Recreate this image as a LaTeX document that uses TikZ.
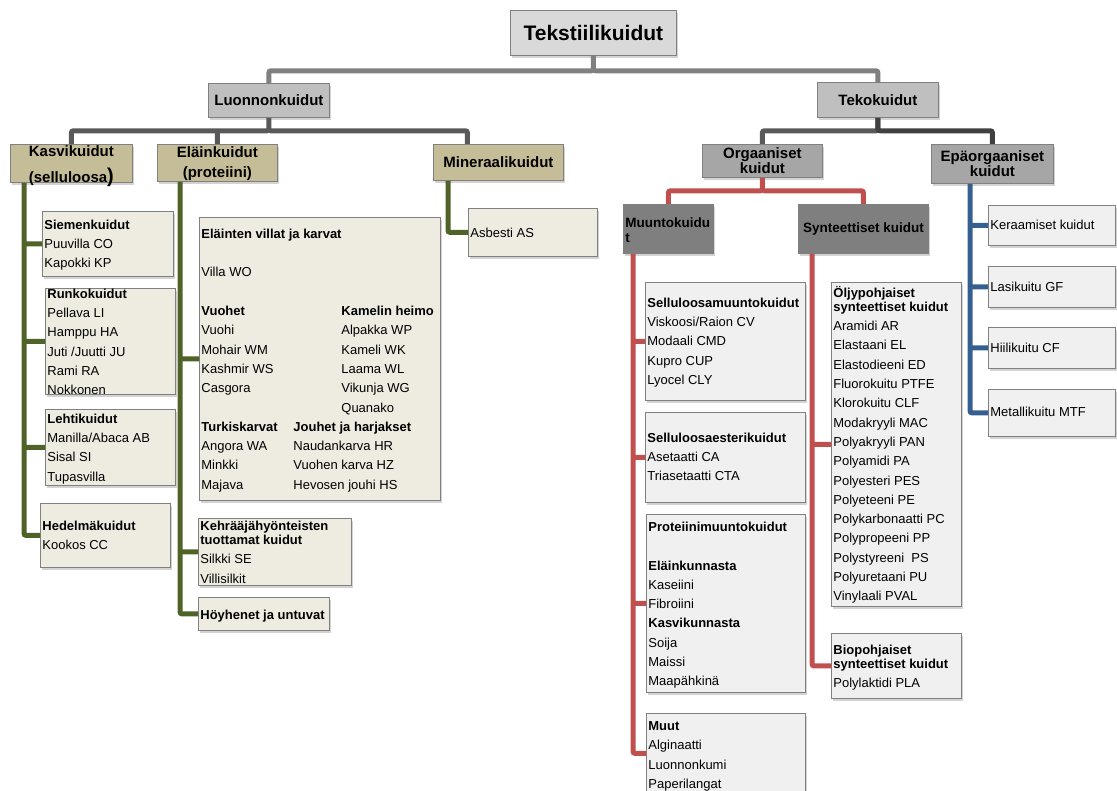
\documentclass[tikz,border=0pt]{standalone}
\usepackage{fontspec}
\setmainfont{Liberation Sans}
\usetikzlibrary{shadows}
\definecolor{boxline}{HTML}{808080}
\definecolor{topfill}{HTML}{D9D9D9}
\definecolor{grayfill}{HTML}{BFBFBF}
\definecolor{midfill}{HTML}{A6A6A6}
\definecolor{darkfill}{HTML}{7F7F7F}
\definecolor{tanfill}{HTML}{C4BD97}
\definecolor{beige}{HTML}{EEECE1}
\definecolor{leafgray}{HTML}{F0F0F0}
\definecolor{olive}{HTML}{4F6228}
\definecolor{brick}{HTML}{C0504D}
\definecolor{steel}{HTML}{365F91}
% text block of a box: width, height, first baseline, lines
\newcommand{\fibtext}[4]{\parbox[c][#2pt][t]{#1pt}{\leftskip=2pt\rule{0pt}{#3pt}#4}}

\begin{document}
\begin{tikzpicture}[x=1pt,y=-1pt
  ,inner sep=0pt
  ,font=\fontsize{13}{19.3}\selectfont]
  \tikzstyle{fbox}=[draw=boxline,line width=0.8pt,anchor=north west,
    drop shadow={shadow xshift=1.5pt,shadow yshift=-2.5pt,opacity=0.35}]
  \tikzstyle{headbox}=[fbox,fill=topfill,font=\bfseries\fontsize{21}{24}\selectfont]
  \tikzstyle{graybox}=[fbox,fill=grayfill,font=\bfseries\fontsize{15}{17}\selectfont]
  \tikzstyle{tanbox}=[fbox,fill=tanfill,font=\bfseries\fontsize{15}{20}\selectfont]
  \tikzstyle{midbox}=[fbox,fill=midfill,align=center,font=\bfseries\fontsize{15}{15}\selectfont]
  \tikzstyle{darkbox}=[fbox,fill=darkfill,font=\bfseries\fontsize{13.5}{19.3}\selectfont]
  \tikzstyle{leafg}=[fbox,fill=beige]
  \tikzstyle{leafx}=[fbox,fill=leafgray]
  \tikzstyle{toplink}=[line width=5pt,draw=black!50,rounded corners=2pt]
  \tikzstyle{midlink}=[line width=5pt,draw=black!65,rounded corners=2pt]
  \tikzstyle{greenlink}=[line width=5pt,draw=olive,rounded corners=2pt]
  \tikzstyle{redlink}=[line width=5pt,draw=brick,rounded corners=2pt]
  \tikzstyle{bluelink}=[line width=5pt,draw=steel,rounded corners=2pt]

  \useasboundingbox (0,0) rectangle (1117,791);
  \clip (0,0) rectangle (1117,791);

  % upper levels
  \node[headbox,minimum width=166,minimum height=45] (teksti) at (510,10) {Tekstiilikuidut};
  \node[graybox,minimum width=121,minimum height=34] (luonnon) at (208,83) {Luonnonkuidut};
  \node[graybox,minimum width=121,minimum height=35] (teko) at (817,82) {Tekokuidut};

  \node[tanbox] (kasvi) at (10,144)
    {\fibtext{122}{38}{12}{\centering Kasvikuidut\\[6pt](selluloosa{\fontsize{20}{20}\selectfont)}}};
  \node[tanbox] (elain) at (157,144)
    {\fibtext{120}{37}{13}{\centering Eläinkuidut\\(proteiini)}};
  \node[tanbox,minimum width=130,minimum height=36] (mineraali) at (433,144) {Mineraalikuidut};
  \node[midbox,minimum width=120,minimum height=33] (orgaaniset) at (702,144) {Orgaaniset\\kuidut};
  \node[midbox,minimum width=122,minimum height=39] (epaorg) at (931,144) {Epäorgaaniset\\kuidut};

  \node[darkbox] (muunto) at (623,204) {\fibtext{90}{49}{23}{Muuntokuidu\\[-4.3pt]t}};
  \node[darkbox,minimum width=130,minimum height=49] (synt) at (798,204) {Synteettiset kuidut};

  % kasvikuidut
  \node[leafg] (siemen) at (42,211) {\fibtext{131}{65}{18}{\textbf{Siemenkuidut}\\
    Puuvilla CO\\Kapokki KP}};
  \node[leafg] (runko) at (45,288) {\fibtext{130}{106}{10}{\textbf{Runkokuidut}\\
    Pellava LI\\Hamppu HA\\Juti /Juutti JU\\Rami RA\\Nokkonen}};
  \node[leafg] (lehti) at (45,409) {\fibtext{130}{76}{14}{\textbf{Lehtikuidut}\\
    Manilla/Abaca AB\\Sisal SI\\Tupasvilla}};
  \node[leafg] (hedelma) at (40,503) {\fibtext{130}{64}{27}{\textbf{Hedelmäkuidut}\\
    Kookos CC}};

  % eläinkuidut
  \node[leafg] (villat) at (199,217) {\fibtext{241}{283}{21}{\textbf{Eläinten villat ja karvat}\\
    \mbox{}\\
    Villa WO\\
    \mbox{}\\
    \makebox[140pt][l]{\textbf{Vuohet}}\textbf{Kamelin heimo}\\
    \makebox[140pt][l]{Vuohi}Alpakka WP\\
    \makebox[140pt][l]{Mohair WM}Kameli WK\\
    \makebox[140pt][l]{Kashmir WS}Laama WL\\
    \makebox[140pt][l]{Casgora}Vikunja WG\\
    \makebox[140pt][l]{}Quanako\\
    \makebox[92pt][l]{\textbf{Turkiskarvat}}\textbf{Jouhet ja harjakset}\\
    \makebox[92pt][l]{Angora WA}Naudankarva HR\\
    \makebox[92pt][l]{Minkki}Vuohen karva HZ\\
    \makebox[92pt][l]{Majava}Hevosen jouhi HS}};
  \node[leafg] (kehraaja) at (198,518) {\fibtext{153}{67}{12}{\textbf{Kehrääjähyönteisten}\\[-5.3pt]
    \textbf{tuottamat kuidut}\\Silkki SE\\Villisilkit}};
  \node[leafg] (hoyhen) at (198,597) {\fibtext{131}{33}{22}{\textbf{Höyhenet ja untuvat}}};

  % mineraalikuidut
  \node[leafg] (asbesti) at (468,208) {\fibtext{129}{48}{29}{Asbesti AS}};

  % muuntokuidut
  \node[leafx] (sellmuunto) at (645,282) {\fibtext{160}{118}{25}{\textbf{Selluloosamuuntokuidut}\\
    Viskoosi/Raion CV\\Modaali CMD\\Kupro CUP\\Lyocel CLY}};
  \node[leafx] (esteri) at (645,412) {\fibtext{160}{90}{30}{\textbf{Selluloosaesterikuidut}\\
    Asetaatti CA\\Triasetaatti CTA}};
  \node[leafx] (proteiini) at (646,514) {\fibtext{159}{178}{17}{\textbf{Proteiinimuuntokuidut}\\
    \mbox{}\\
    \textbf{Eläinkunnasta}\\Kaseiini\\Fibroiini\\
    \textbf{Kasvikunnasta}\\Soija\\Maissi\\Maapähkinä}};
  \node[leafx] (muut) at (646,713) {\fibtext{159}{80}{17}{\textbf{Muut}\\
    Alginaatti\\Luonnonkumi\\Paperilangat}};

  % synteettiset kuidut
  \node[leafx] (oljy) at (831,282) {\fibtext{130}{324}{15}{\textbf{Öljypohjaiset}\\[-5.3pt]
    \textbf{synteettiset kuidut}\\
    Aramidi AR\\Elastaani EL\\Elastodieeni ED\\Fluorokuitu PTFE\\Klorokuitu CLF\\
    Modakryyli MAC\\Polyakryyli PAN\\Polyamidi PA\\Polyesteri PES\\Polyeteeni PE\\
    Polykarbonaatti PC\\Polypropeeni PP\\Polystyreeni\ \ PS\\Polyuretaani PU\\Vinylaali PVAL}};
  \node[leafx] (bio) at (831,633) {\fibtext{130}{65}{21}{\textbf{Biopohjaiset}\\[-5.3pt]
    \textbf{synteettiset kuidut}\\Polylaktidi PLA}};

  % epäorgaaniset kuidut
  \node[leafx] (keraami) at (988,205) {\fibtext{127}{40}{24}{Keraamiset kuidut}};
  \node[leafx] (lasi) at (988,266) {\fibtext{127}{41}{25}{Lasikuitu GF}};
  \node[leafx] (hiili) at (988,327) {\fibtext{127}{41}{25}{Hiilikuitu CF}};
  \node[leafx] (metalli) at (988,389) {\fibtext{127}{47}{27}{Metallikuitu MTF}};

  % connectors
  \draw[toplink] (teksti.south) -- ++(0,15) -| (luonnon.north)
    (teksti.south) -- ++(0,15) -| (teko.north);
  \draw[midlink] (luonnon.south) -- ++(0,13) -| (kasvi.north)
    (luonnon.south) -- ++(0,13) -| (elain.north)
    (luonnon.south) -- ++(0,13) -| ([xshift=-31pt]mineraali.north);
  \draw[midlink] (teko.south) -- ++(0,13) -| (orgaaniset.north);
  \draw[midlink,draw=black!75] (teko.south) -- ++(0,13) -| (epaorg.north);
  \draw[redlink] (orgaaniset.south) -- ++(0,13) -| (muunto.north)
    (orgaaniset.south) -- ++(0,13) -| (synt.north);

  \draw[greenlink] ([xshift=14pt]kasvi.south west) |- (siemen.west)
    ([xshift=14pt]kasvi.south west) |- (runko.west)
    ([xshift=14pt]kasvi.south west) |- (lehti.west)
    ([xshift=14pt]kasvi.south west) |- (hedelma.west);
  \draw[greenlink] ([xshift=23pt]elain.south west) |- (villat.west)
    ([xshift=23pt]elain.south west) |- (kehraaja.west)
    ([xshift=23pt]elain.south west) |- (hoyhen.west);
  \draw[greenlink] ([xshift=15pt]mineraali.south west) |- (asbesti.west);
  \draw[redlink] ([xshift=10pt]muunto.south west) |- (sellmuunto.west)
    ([xshift=10pt]muunto.south west) |- (esteri.west)
    ([xshift=10pt]muunto.south west) |- (proteiini.west)
    ([xshift=10pt]muunto.south west) |- (muut.west);
  \draw[redlink] ([xshift=14pt]synt.south west) |- (oljy.west)
    ([xshift=14pt]synt.south west) |- (bio.west);
  \draw[bluelink] ([xshift=39pt]epaorg.south west) |- (keraami.west)
    ([xshift=39pt]epaorg.south west) |- (lasi.west)
    ([xshift=39pt]epaorg.south west) |- (hiili.west)
    ([xshift=39pt]epaorg.south west) |- (metalli.west);
\end{tikzpicture}
\end{document}
